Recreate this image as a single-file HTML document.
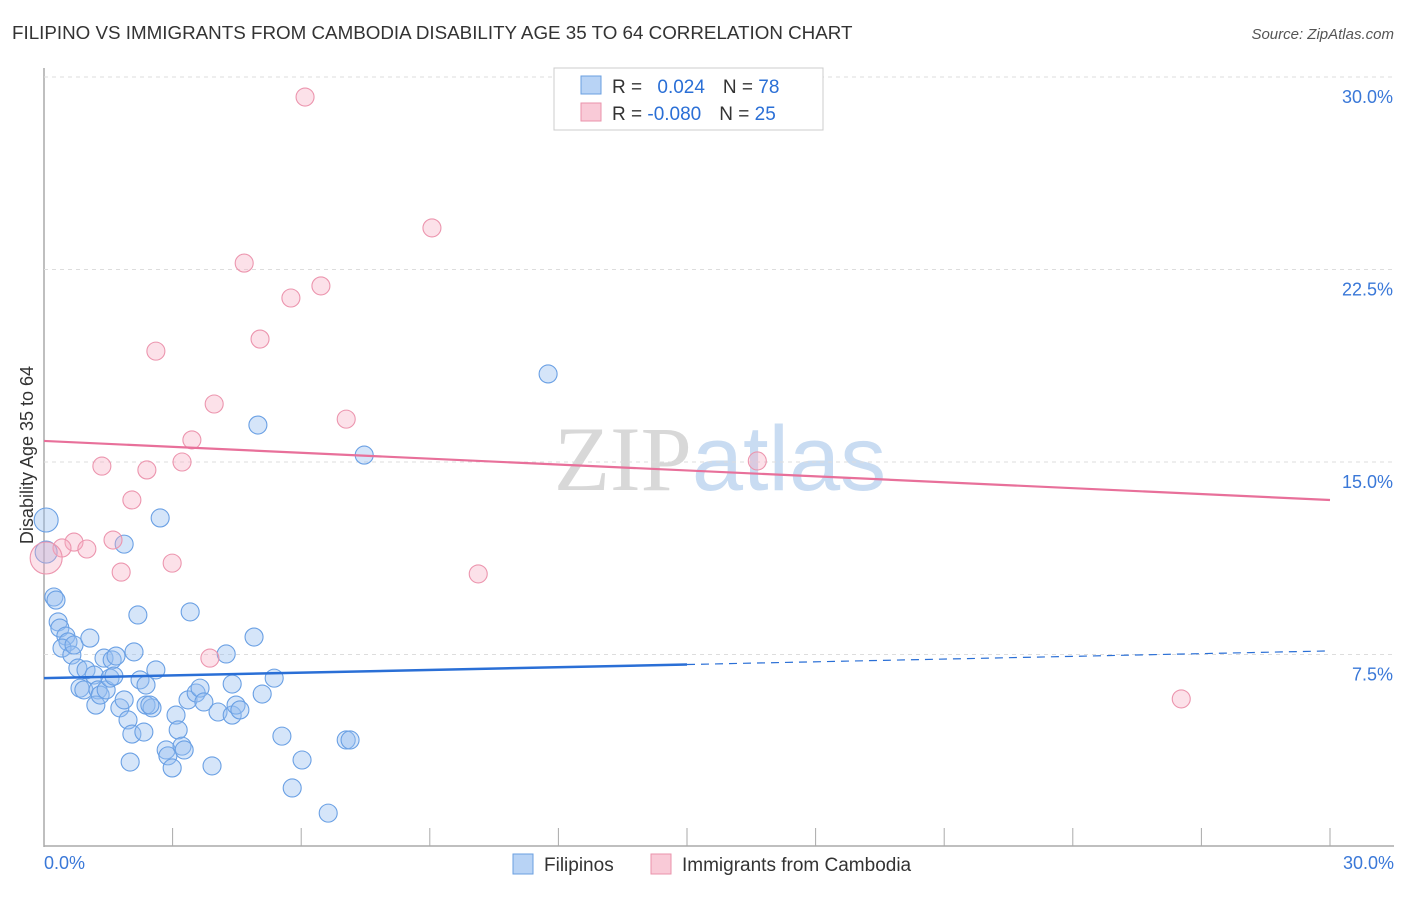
<!DOCTYPE html>
<html><head><meta charset="utf-8"><style>
body{margin:0;background:#fff;font-family:"Liberation Sans",sans-serif}
</style></head><body>
<svg id="c" width="1406" height="892" xmlns="http://www.w3.org/2000/svg" style="font-family:'Liberation Sans',sans-serif">
<text x="12" y="39" font-size="18.8" fill="#333">FILIPINO VS IMMIGRANTS FROM CAMBODIA DISABILITY AGE 35 TO 64 CORRELATION CHART</text>
<text x="1394" y="39" font-size="15" fill="#555" font-style="italic" text-anchor="end">Source: ZipAtlas.com</text>
<text x="720" y="490" font-size="92" text-anchor="middle"><tspan fill="#d8d8d8" font-family="Liberation Serif">ZIP</tspan><tspan fill="#c9dcf2">atlas</tspan></text>
<g id="grid"></g><g id="marks"></g>
<text transform="translate(33,455) rotate(-90)" font-size="18" fill="#333" text-anchor="middle">Disability Age 35 to 64</text>
<g>
<rect x="554" y="68" width="269" height="62" fill="#fff" stroke="#ccc"/>
<rect x="581" y="76" width="20" height="18" fill="#b8d3f5" stroke="#6a9fe0"/>
<rect x="581" y="103" width="20" height="18" fill="#f9cad7" stroke="#ea93ab"/>
<text x="612" y="93" font-size="19" fill="#333">R = <tspan fill="#2a6fd6" dx="10">0.024</tspan><tspan dx="18" fill="#333">N = </tspan><tspan fill="#2a6fd6">78</tspan></text>
<text x="612" y="120" font-size="19" fill="#333">R = <tspan fill="#2a6fd6">-0.080</tspan><tspan dx="18" fill="#333">N = </tspan><tspan fill="#2a6fd6">25</tspan></text>
</g>
<g>
<rect x="513" y="854" width="20" height="20" fill="#b8d3f5" stroke="#6a9fe0"/>
<text x="544" y="871" font-size="19" fill="#333">Filipinos</text>
<rect x="651" y="854" width="20" height="20" fill="#f9cad7" stroke="#ea93ab"/>
<text x="682" y="871" font-size="19" fill="#333">Immigrants from Cambodia</text>
</g>
</svg>
<script>
const yTicks=[7.5,15,22.5,30];
const yTickLabels=["7.5%","15.0%","22.5%","30.0%"];
const xTickLabels=["0.0%","30.0%"];
const blueX=[0.05,0.05,0.23,0.28,0.33,0.37,0.51,0.56,0.42,0.65,0.70,1.07,0.79,0.98,0.84,0.93,1.17,1.26,1.21,1.31,1.45,1.40,1.59,1.54,1.68,1.63,1.77,1.87,1.96,2.05,2.01,2.10,2.19,2.24,2.38,2.38,2.52,2.61,2.33,2.71,2.85,2.89,2.99,3.08,3.13,3.22,3.27,3.36,3.41,3.55,3.64,3.73,3.92,4.06,4.25,4.39,4.39,4.48,4.57,4.90,4.99,5.09,5.37,5.55,5.79,6.02,6.63,7.05,7.14,7.47,11.76,1.87,2.47];
const blueY=[12.74,11.49,9.74,9.62,8.77,8.53,8.22,7.99,7.75,7.48,7.87,8.14,6.97,6.90,6.19,6.12,6.70,6.12,5.53,5.92,6.12,7.36,7.29,6.58,7.44,6.66,5.42,5.73,4.95,4.40,3.31,7.60,9.04,6.51,6.31,5.53,5.42,6.90,4.48,12.82,3.78,3.55,3.08,5.14,4.56,3.93,3.78,5.73,9.16,6.00,6.19,5.65,3.16,5.26,7.52,6.35,5.14,5.53,5.34,8.18,16.44,5.96,6.58,4.32,2.30,3.39,1.32,4.17,4.17,15.27,18.43,11.80,5.53];
const pinkX=[6.09,9.05,4.67,6.46,5.76,5.04,2.61,3.97,7.05,3.45,3.22,1.35,2.40,16.64,2.05,1.61,0.70,0.42,1.00,0.05,2.99,1.80,10.13,3.87,26.53];
const pinkY=[29.22,24.12,22.75,21.86,21.39,19.79,19.32,17.26,16.67,15.86,15.00,14.84,14.69,15.04,13.52,11.96,11.88,11.65,11.61,11.26,11.06,10.71,10.64,7.36,5.77];
const blueTrend=[6.58,7.64];
const pinkTrend=[15.82,13.52];
const X=v=>44+v/30*1286, Y=v=>847-v/7.5*192.5;
const NS="http://www.w3.org/2000/svg";
const grid=document.getElementById('grid'), marks=document.getElementById('marks');
function mk(tag,attrs,parent){const e=document.createElementNS(NS,tag);for(const k in attrs)e.setAttribute(k,attrs[k]);parent.appendChild(e);return e;}
let ax=mk('line',{x1:44,y1:68,x2:44,y2:847,stroke:'#aaa','stroke-width':1.5},grid);


let bx=mk('line',{x1:44,y1:846,x2:1394,y2:846,stroke:'#aaa','stroke-width':1.5},grid);


for(let i=0;i<=10;i++){let t=mk('line',{x1:X(i*3),x2:X(i*3),y1:828,y2:846,stroke:'#aaa'},grid);

}
yTicks.forEach((v,i)=>{let g=mk('line',{x1:44,x2:1394,y1:Y(v),y2:Y(v),stroke:'#ddd','stroke-dasharray':'4,4'},grid);


let t=mk('text',{x:1393,y:Y(v)+26,'font-size':18,fill:'#3a78d8','text-anchor':'end'},grid);t.textContent=yTickLabels[i];

});
[[44,'start'],[1394,'end']].forEach((p,i)=>{let t=mk('text',{x:p[0],y:869,'font-size':18,fill:'#3a78d8','text-anchor':p[1]},grid);t.textContent=xTickLabels[i];

});
blueX.forEach((x,i)=>{let r=(i<2)?(i==0?12:11):9;let c=mk('circle',{cx:X(x),cy:Y(blueY[i]),r:r,fill:'rgba(150,190,240,0.4)',stroke:'#6aa0e4','stroke-width':1.1},marks);

});
pinkX.forEach((x,i)=>{let r=(i==19)?16:9;let c=mk('circle',{cx:X(x),cy:Y(pinkY[i]),r:r,fill:'rgba(245,170,192,0.35)',stroke:'#ec95ae','stroke-width':1.1},marks);

});
let l1=mk('line',{x1:X(0),y1:Y(blueTrend[0]),x2:X(15),y2:Y(blueTrend[0]+(blueTrend[1]-blueTrend[0])*0.5),stroke:'#2a6fd6','stroke-width':2.5},marks);


let l2=mk('line',{x1:X(15),y1:Y(blueTrend[0]+(blueTrend[1]-blueTrend[0])*0.5),x2:X(30),y2:Y(blueTrend[1]),stroke:'#2a6fd6','stroke-width':1.2,'stroke-dasharray':'8,6'},marks);


let l3=mk('line',{x1:X(0),y1:Y(pinkTrend[0]),x2:X(30),y2:Y(pinkTrend[1]),stroke:'#e8709a','stroke-width':2.2},marks);


</script>
</body></html>
